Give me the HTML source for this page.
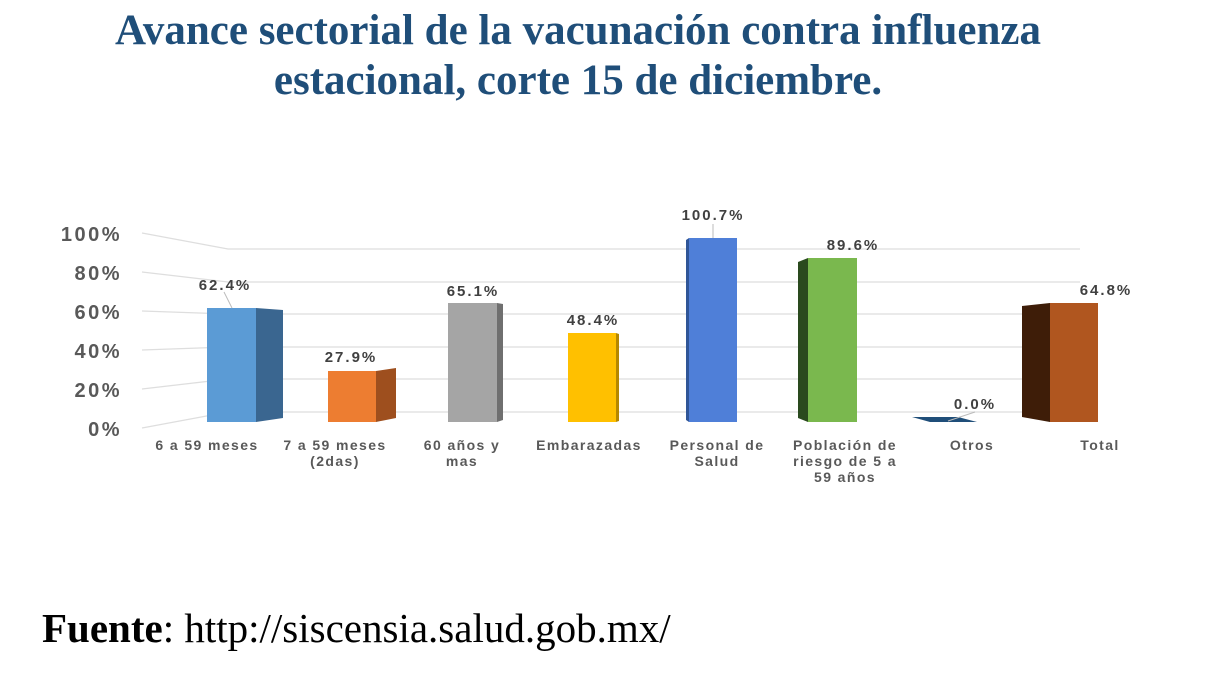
<!DOCTYPE html><html><head><meta charset="utf-8"><style>
body{margin:0;background:#fff;width:1206px;height:698px;overflow:hidden;position:relative}
.t{position:absolute;left:0;width:1156px;text-align:center;font-family:"Liberation Serif",serif;font-weight:bold;color:#1f4e79;font-size:43px;line-height:50px}
.f{position:absolute;left:42px;top:604px;font-family:"Liberation Serif",serif;font-size:41px;color:#000;white-space:nowrap}
</style></head><body>
<div class="t" style="top:6px">Avance sectorial de la vacunación contra influenza<br>estacional, corte 15 de diciembre.</div>
<svg width="1206" height="698" style="position:absolute;left:0;top:0" font-family="Liberation Sans,sans-serif" font-weight="bold">
<g stroke="#dedede" stroke-width="1.3" fill="none">
<path d="M142 233 L228 249 H1080"/><path d="M142 272 L228 282 H1080"/><path d="M142 311 L228 314 H1080"/>
<path d="M142 350 L228 347 H1080"/><path d="M142 389 L228 379 H1080"/><path d="M142 428 L228 412 H1080"/>
</g>
<g fill="#595959" font-size="20" text-anchor="end" letter-spacing="2.5">
<text x="122" y="241">100%</text><text x="122" y="280">80%</text><text x="122" y="319">60%</text>
<text x="122" y="358">40%</text><text x="122" y="397">20%</text><text x="122" y="436">0%</text>
</g>
<polygon points="256,308 283,310 283,418 256,422" fill="#3a6690"/><rect x="207" y="308" width="49" height="114" fill="#5b9bd5"/>
<polygon points="376,371 396,368 396,418 376,422" fill="#9e4f1e"/><rect x="328" y="371" width="48" height="51" fill="#ed7d31"/>
<polygon points="497,303 503,304 503,420 497,422" fill="#6f6f6f"/><rect x="448" y="303" width="49" height="119" fill="#a5a5a5"/>
<polygon points="616,333 619,334 619,421 616,422" fill="#b58800"/><rect x="568" y="333" width="48" height="89" fill="#ffc000"/>
<polygon points="686,240 689,238 689,422 686,420" fill="#2f5597"/><rect x="689" y="238" width="48" height="184" fill="#4f7fd8"/>
<polygon points="798,262 808,258 808,422 798,418" fill="#2a4a1e"/><rect x="808" y="258" width="49" height="164" fill="#7ab84e"/>
<polygon points="912,417 958,417 977,422 930,422" fill="#1f4e79"/>
<polygon points="1022,306 1050,303 1050,422 1022,417" fill="#3e1d08"/><rect x="1050" y="303" width="48" height="119" fill="#b0561f"/>
<g stroke="#bbb" fill="none"><path d="M224 292 L232 308"/><path d="M713 224 V238"/><path d="M948 421 L975 412"/></g>
<g fill="#404040" font-size="15" text-anchor="middle" letter-spacing="2">
<text x="225" y="290">62.4%</text><text x="351" y="362">27.9%</text><text x="473" y="296">65.1%</text>
<text x="593" y="325">48.4%</text><text x="713" y="220">100.7%</text><text x="853" y="250">89.6%</text>
<text x="975" y="409">0.0%</text><text x="1106" y="295">64.8%</text>
</g>
<g fill="#595959" font-size="14" text-anchor="middle" letter-spacing="1.4">
<text x="207" y="450">6 a 59 meses</text>
<text x="335" y="450">7 a 59 meses</text><text x="335" y="466">(2das)</text>
<text x="462" y="450">60 años y</text><text x="462" y="466">mas</text>
<text x="589" y="450">Embarazadas</text>
<text x="717" y="450">Personal de</text><text x="717" y="466">Salud</text>
<text x="845" y="450">Población de</text><text x="845" y="466">riesgo de 5 a</text><text x="845" y="482">59 años</text>
<text x="972" y="450">Otros</text>
<text x="1100" y="450">Total</text>
</g>
</svg>
<div class="f"><b>Fuente</b>: http://siscensia.salud.gob.mx/</div>
</body></html>
